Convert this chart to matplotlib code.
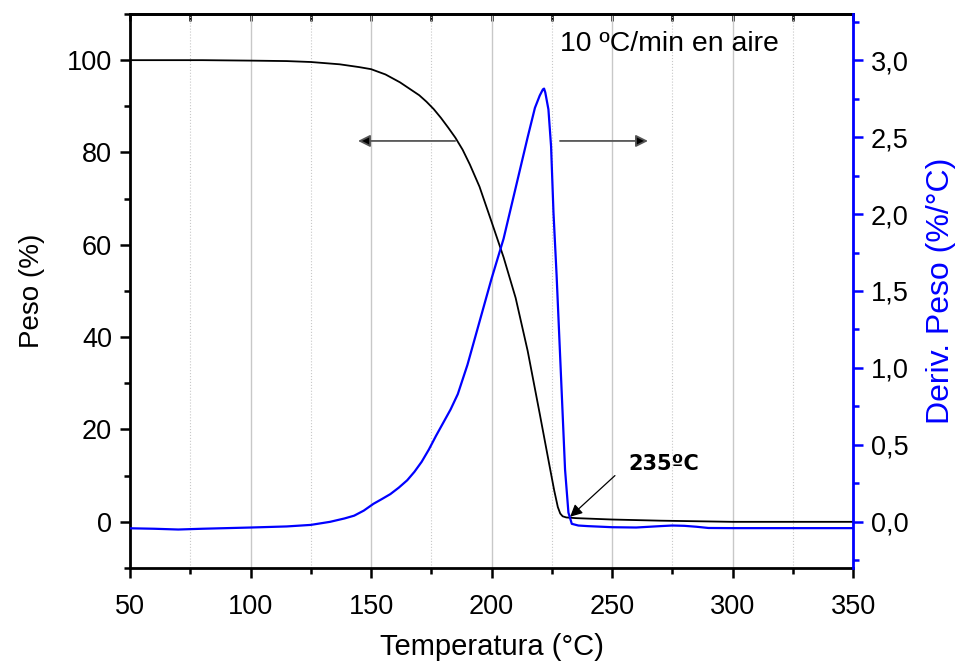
import matplotlib.pyplot as plt
from matplotlib.ticker import MultipleLocator, FuncFormatter

plt.rcParams['font.family'] = ['Liberation Sans', 'DejaVu Sans']

# weight curve (Peso %)
temp_w = [50, 80, 100, 115, 125, 137, 145, 150, 156, 162, 166, 170, 173, 176, 179,
          182, 185, 188, 191, 195, 200, 205, 210, 215, 220, 224, 226, 227.5, 228.5,
          229.5, 231, 235, 250, 270, 300, 350]
peso = [100, 100, 99.9, 99.8, 99.6, 99.1, 98.5, 98.05, 96.9, 95.2, 93.8, 92.4, 91.0,
        89.4, 87.5, 85.4, 83.2, 80.6, 77.4, 72.6, 65.0, 57.3, 48.5, 37.0, 23.4, 12.3,
        6.8, 3.2, 1.8, 1.2, 0.95, 0.8, 0.5, 0.25, 0.0, 0.0]

# derivative curve (%/°C)
temp_d = [50, 60, 70, 80, 100, 115, 125, 133, 139, 143, 147, 151, 154.5, 158, 161.5,
          165, 168, 171, 174, 177, 180, 183, 186, 190, 195, 200, 205, 210, 215, 218,
          220, 221.3, 221.8, 222.3, 223.6, 224.7, 225.7, 227, 228.7, 230.5, 231.9,
          233.3, 236, 240, 250, 260, 270, 275, 280, 285, 290, 300, 350]
deriv = [-0.042, -0.045, -0.05, -0.045, -0.037, -0.03, -0.02, 0.0, 0.022, 0.04, 0.073,
         0.117, 0.148, 0.18, 0.222, 0.27, 0.325, 0.39, 0.47, 0.56, 0.645, 0.73, 0.83,
         1.02, 1.30, 1.58, 1.84, 2.17, 2.50, 2.69, 2.77, 2.81, 2.815, 2.79, 2.68, 2.44,
         2.01, 1.60, 0.99, 0.34, 0.06, -0.013, -0.024, -0.028, -0.035, -0.037, -0.028,
         -0.024, -0.026, -0.032, -0.040, -0.041, -0.041]

fig = plt.figure(figsize=(9.64, 6.63), dpi=100)
ax = fig.add_axes([0.1349, 0.1433, 0.75, 0.8356])
ax2 = ax.twinx()

ax.plot(temp_w, peso, color='black', lw=1.3, zorder=3)
ax2.plot(temp_d, deriv, color='#0000ff', lw=1.6, zorder=3)

ax.set_xlim(50, 350)
ax.set_ylim(-10, 110)
ax2.set_ylim(-0.3, 3.3)

ax.xaxis.set_major_locator(MultipleLocator(50))
ax.xaxis.set_minor_locator(MultipleLocator(25))
ax.yaxis.set_major_locator(MultipleLocator(20))
ax.yaxis.set_minor_locator(MultipleLocator(10))
ax2.yaxis.set_major_locator(MultipleLocator(0.5))
ax2.yaxis.set_minor_locator(MultipleLocator(0.25))
ax2.yaxis.set_major_formatter(FuncFormatter(lambda v, p: f'{v:.1f}'.replace('.', ',')))

ax.grid(axis='x', which='major', color='#c8c8c8', lw=1.0)
ax.grid(axis='x', which='minor', color='#c8c8c8', lw=0.8, linestyle=':')
ax.set_axisbelow(True)

for s in ['left', 'bottom', 'top']:
    ax.spines[s].set_linewidth(2)
ax.spines['right'].set_visible(False)
for s in ['left', 'bottom', 'top']:
    ax2.spines[s].set_visible(False)
ax2.spines['right'].set_color('#0000ff')
ax2.spines['right'].set_linewidth(2)

ax.tick_params(axis='x', which='major', direction='out', length=7, width=1.8,
               labelsize=19.5, pad=12)
ax.tick_params(axis='y', which='major', direction='out', length=7, width=1.8,
               labelsize=19.5, pad=6)
ax.tick_params(axis='both', which='minor', direction='out', length=4, width=1.8)
ax2.tick_params(axis='y', which='major', direction='out', length=7, width=1.8,
                color='#0000ff', labelcolor='black', labelsize=19.5, pad=6)
ax2.tick_params(axis='y', which='minor', direction='out', length=4, width=1.8, color='#0000ff')

top = ax.secondary_xaxis('top')
top.xaxis.set_major_locator(MultipleLocator(50))
top.xaxis.set_minor_locator(MultipleLocator(25))
top.tick_params(which='both', direction='in', length=5, width=1.8, labeltop=False)
top.spines['top'].set_linewidth(2)

ax.set_xlabel('Temperatura (°C)', fontsize=21, labelpad=9)
ax.set_ylabel('Peso (%)', fontsize=20, labelpad=16)
ax2.set_ylabel('Deriv. Peso (%/°C)', fontsize=23, color='#0000ff', labelpad=12)

ax.text(228.4, 103.5, '10 ºC/min en aire', fontsize=20.4, va='center', ha='left')

arrow_kw = dict(arrowstyle='-|>', color='#555555', lw=1.3, mutation_scale=18,
                shrinkA=0, shrinkB=0)
ax.annotate('', xy=(144.6, 82.5), xytext=(184.9, 82.5),
            arrowprops=dict(arrow_kw, fc='black', ec='#555555'))
ax.annotate('', xy=(264.9, 82.5), xytext=(228.4, 82.5),
            arrowprops=dict(arrow_kw, fc='black', ec='#555555'))

ax.annotate('235ºC', xy=(232.6, 1.1), xytext=(256.6, 12.6), fontsize=15,
            family='DejaVu Sans', fontweight='bold', va='center', ha='left',
            arrowprops=dict(arrowstyle='-|>', color='black', lw=0.9, mutation_scale=18,
                            shrinkA=10, shrinkB=0, relpos=(0, 0.5)))

fig.savefig('out.png', dpi=100)
